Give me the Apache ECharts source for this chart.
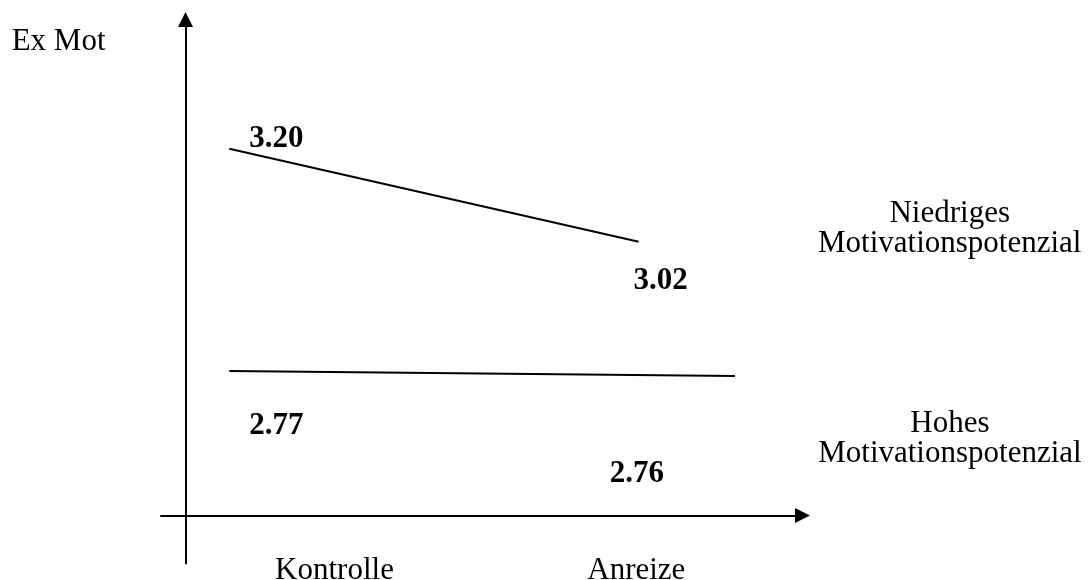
<!DOCTYPE html>
<html>
<head>
<meta charset="utf-8">
<script src="https://cdn.jsdelivr.net/npm/echarts@6/dist/echarts.min.js"></script>
<style>
  html, body { margin: 0; padding: 0; background: #ffffff; }
  #chart { width: 1089px; height: 580px; }
</style>
</head>
<body>
<div id="chart"></div>
<script>
// ---- data ----
const categories = ['Kontrolle', 'Anreize'];
const seriesNames = ['Niedriges Motivationspotenzial', 'Hohes Motivationspotenzial'];
const niedrigesValues = [3.20, 3.02];
const hohesValues = [2.77, 2.76];
const yAxisName = 'Ex Mot';

// ---- layout (schematic positions on the hidden horizontal scale) ----
const xStart = 0;               // start of both lines (Kontrolle)
const xEndLow = 1;              // end of the "Niedriges" line (Anreize)
const xEndHigh = 1.235;         // the "Hohes" line is drawn a little longer
const FONT = '"Liberation Serif", "Times New Roman", serif';

const valueLabelOffsets = [
  [[47, -10], [22, 39]],
  [[47, 55], [-98, 98]]
];
const nameOffsets = [[311, -13], [215, 63]];

function lineData(values, xEnd, offsets) {
  return values.map((v, i) => ({
    value: [i === 0 ? xStart : xEnd, v],
    label: { offset: offsets[i] }
  }));
}

function makeSeries(idx, values, xEnd) {
  const last = values[values.length - 1];
  return {
    type: 'line',
    name: seriesNames[idx],
    xAxisIndex: 0,
    yAxisIndex: 0,
    data: lineData(values, xEnd, valueLabelOffsets[idx]),
    symbol: 'circle',
    symbolSize: 1,
    showSymbol: true,
    itemStyle: { color: 'rgba(0,0,0,0)' },
    lineStyle: { color: '#000000', width: 2 },
    label: {
      show: true,
      position: 'inside',
      align: 'center',
      verticalAlign: 'middle',
      color: '#000000',
      fontFamily: FONT,
      fontWeight: 'bold',
      fontSize: 31,
      formatter: p => p.value[1].toFixed(2)
    },
    emphasis: { disabled: true },
    markPoint: {
      symbol: 'circle',
      symbolSize: 1,
      itemStyle: { color: 'rgba(0,0,0,0)' },
      label: {
        show: true,
        position: 'inside',
        align: 'center',
        verticalAlign: 'middle',
        color: '#000000',
        fontFamily: FONT,
        fontSize: 31,
        lineHeight: 30,
        offset: nameOffsets[idx],
        formatter: () => seriesNames[idx].replace(' ', '\n')
      },
      data: [{ coord: [xEnd, last] }]
    }
  };
}

const chart = echarts.init(document.getElementById('chart'));
chart.setOption({
  animation: false,
  backgroundColor: '#ffffff',
  grid: [
    { left: 161, right: 286.5, top: 12, bottom: 64.5, outerBoundsMode: 'none', containLabel: false },
    { left: 185.5, right: 286.5, top: 19.5, bottom: 16.5, outerBoundsMode: 'none', containLabel: false },
    { left: 183.6, right: 301.8, top: 12, bottom: 64.5, outerBoundsMode: 'none', containLabel: false }
  ],
  xAxis: [
    {
      gridIndex: 0,
      type: 'value',
      min: -0.1667,
      max: 1.4,
      axisLine: {
        show: true,
        onZero: false,
        symbol: ['none', 'triangle'],
        symbolSize: [15, 15],
        lineStyle: { color: '#000000', width: 2 }
      },
      axisTick: { show: false },
      splitLine: { show: false },
      axisLabel: { show: false }
    },
    {
      gridIndex: 1,
      type: 'value',
      min: 0,
      max: 1,
      show: false
    },
    {
      gridIndex: 2,
      type: 'category',
      data: categories,
      boundaryGap: true,
      axisLine: { show: false, onZero: false },
      axisTick: { show: false },
      splitLine: { show: false },
      axisLabel: {
        show: true,
        interval: 0,
        margin: 40,
        color: '#000000',
        fontFamily: FONT,
        fontSize: 31,
        lineHeight: 31
      }
    }
  ],
  yAxis: [
    {
      gridIndex: 0,
      type: 'value',
      min: 2.49,
      max: 3.465,
      show: false
    },
    {
      gridIndex: 1,
      type: 'value',
      min: 0,
      max: 1,
      name: yAxisName,
      nameLocation: 'end',
      nameGap: -22,
      nameTextStyle: {
        color: '#000000',
        fontFamily: FONT,
        fontSize: 31,
        align: 'right',
        verticalAlign: 'middle',
        padding: [0, 80, 0, 0]
      },
      axisLine: {
        show: true,
        onZero: false,
        symbol: ['none', 'triangle'],
        symbolSize: [15, 15],
        lineStyle: { color: '#000000', width: 2 }
      },
      axisTick: { show: false },
      axisLabel: { show: false },
      splitLine: { show: false }
    },
    {
      gridIndex: 2,
      type: 'value',
      min: 0,
      max: 1,
      show: false
    }
  ],
  series: [
    makeSeries(0, niedrigesValues, xEndLow),
    makeSeries(1, hohesValues, xEndHigh)
  ]
});
</script>
</body>
</html>
